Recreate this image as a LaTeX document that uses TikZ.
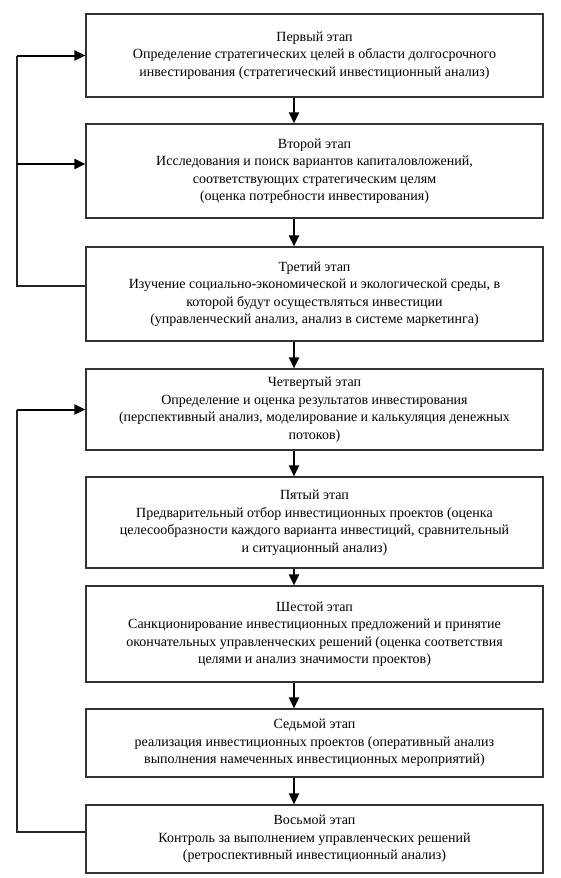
\documentclass[tikz,border=0pt]{standalone}
\usepackage{fontspec}
\setmainfont{Liberation Serif}
\usetikzlibrary{arrows.meta,calc,positioning}

\begin{document}
\begin{tikzpicture}[x=1pt,y=-1pt,
  stage/.style={draw=black!80,line width=1.2pt,minimum width=457pt,inner sep=0pt,
    align=center,font=\fontsize{14}{17.5}\selectfont},
  flow/.style={line width=2pt,-{Triangle[length=11pt,width=10pt]}},
  back/.style={line width=1.3pt,draw=black!85}]
  \useasboundingbox (0,0) rectangle (560,878);

  % stages
  \node[stage,minimum height=83pt] (b1) at (314.5,55.5) {Первый этап\\
    Определение стратегических целей в области долгосрочного\\
    инвестирования (стратегический инвестиционный анализ)};
  \node[stage,minimum height=94pt] (b2) at (314.5,171) {Второй этап\\
    Исследования и поиск вариантов капиталовложений,\\
    соответствующих стратегическим целям\\
    (оценка потребности инвестирования)};
  \node[stage,minimum height=94pt] (b3) at (314.5,294) {Третий этап\\
    Изучение социально-экономической и экологической среды, в\\
    которой будут осуществляться инвестиции\\
    (управленческий анализ, анализ в системе маркетинга)};
  \node[stage,minimum height=81pt] (b4) at (314.5,409.5) {Четвертый этап\\
    Определение и оценка результатов инвестирования\\
    (перспективный анализ, моделирование и калькуляция денежных\\
    потоков)};
  \node[stage,minimum height=91pt] (b5) at (314.5,522.5) {Пятый этап\\
    Предварительный отбор инвестиционных проектов (оценка\\
    целесообразности каждого варианта инвестиций, сравнительный\\
    и ситуационный анализ)};
  \node[stage,minimum height=96pt] (b6) at (314.5,634) {Шестой этап\\
    Санкционирование инвестиционных предложений и принятие\\
    окончательных управленческих решений (оценка соответствия\\
    целями и анализ значимости проектов)};
  \node[stage,minimum height=68pt] (b7) at (314.5,743) {Седьмой этап\\
    реализация инвестиционных проектов (оперативный анализ\\
    выполнения намеченных инвестиционных мероприятий)};
  \node[stage,minimum height=68pt] (b8) at (314.5,839) {Восьмой этап\\
    Контроль за выполнением управленческих решений\\
    (ретроспективный инвестиционный анализ)};

  % arrows down the chain
  \coordinate (ax) at (294,0);
  \foreach \a/\b in {b1/b2,b2/b3,b3/b4,b4/b5,b5/b6,b6/b7,b7/b8}
    \draw[flow] (\a.south -| ax) -- (\b.north -| ax);

  % return from the third stage
  \coordinate (lx) at (17,0);
  \coordinate (out3) at ([yshift=8pt]b3.west);
  \coordinate (in2) at ([yshift=7pt]b2.west);
  \draw[back] (out3) -| (lx |- b1.west);
  \draw[flow] (lx |- b1.west) -- (b1.west);
  \draw[flow] (lx |- in2) -- (in2);

  % return from the eighth stage
  \coordinate (out8) at ([yshift=7pt]b8.west);
  \draw[back] (out8) -| (lx |- b4.west);
  \draw[flow] (lx |- b4.west) -- (b4.west);
\end{tikzpicture}
\end{document}
